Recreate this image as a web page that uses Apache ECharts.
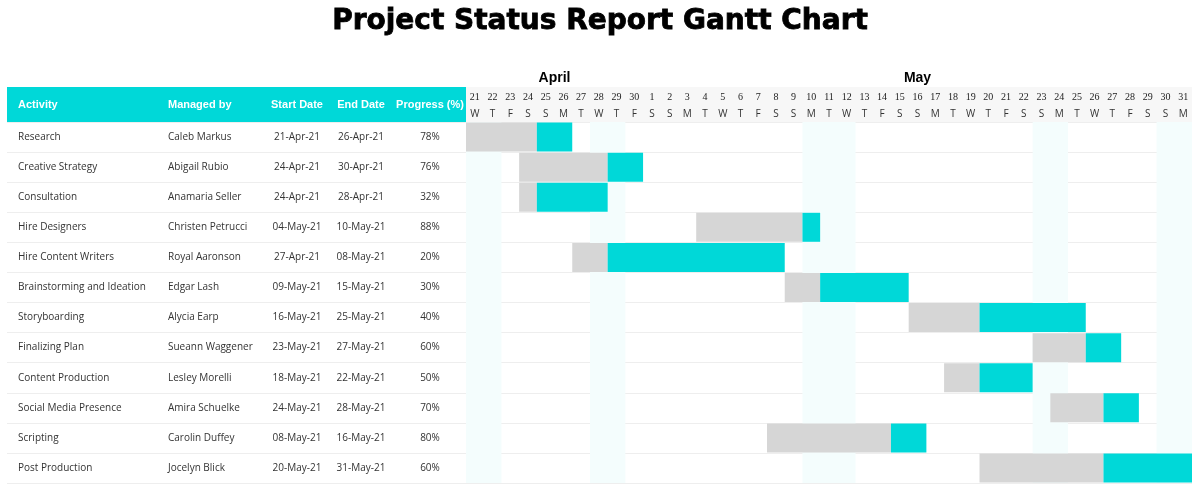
<!DOCTYPE html>
<html>
<head>
<meta charset="UTF-8">
<title>Project Status Report Gantt Chart</title>
<script src="https://cdn.jsdelivr.net/npm/echarts@6/dist/echarts.min.js"></script>
<style>
    html, body { margin: 0; padding: 0; background: #fff; }
    #main { width: 1200px; height: 491px; }
</style>
</head>
<body>
<div id="main"></div>
<script>
    var activities = ['Research', 'Creative Strategy', 'Consultation', 'Hire Designers', 'Hire Content Writers',
        'Brainstorming and Ideation', 'Storyboarding', 'Finalizing Plan', 'Content Production',
        'Social Media Presence', 'Scripting', 'Post Production'];
    var managers = ['Caleb Markus', 'Abigail Rubio', 'Anamaria Seller', 'Christen Petrucci', 'Royal Aaronson',
        'Edgar Lash', 'Alycia Earp', 'Sueann Waggener', 'Lesley Morelli', 'Amira Schuelke', 'Carolin Duffey', 'Jocelyn Blick'];
    var startDates = ['21-Apr-21', '24-Apr-21', '24-Apr-21', '04-May-21', '27-Apr-21', '09-May-21',
        '16-May-21', '23-May-21', '18-May-21', '24-May-21', '08-May-21', '20-May-21'];
    var endDates = ['26-Apr-21', '30-Apr-21', '28-Apr-21', '10-May-21', '08-May-21', '15-May-21',
        '25-May-21', '27-May-21', '22-May-21', '28-May-21', '16-May-21', '31-May-21'];
    var progress = ['78%', '76%', '32%', '88%', '20%', '30%', '40%', '60%', '50%', '70%', '80%', '60%'];

    // bars in day columns (0 = 21 Apr)
    var startDay = [0, 3, 3, 13, 6, 18, 25, 32, 27, 33, 17, 29];
    var grayDays = [4, 5, 1, 6, 2, 2, 4, 3, 2, 3, 7, 7];
    var cyanDays = [2, 2, 4, 1, 10, 5, 6, 2, 3, 2, 2, 5];

    var dayNums = ['21', '22', '23', '24', '25', '26', '27', '28', '29', '30',
        '1', '2', '3', '4', '5', '6', '7', '8', '9', '10', '11', '12', '13', '14', '15', '16',
        '17', '18', '19', '20', '21', '22', '23', '24', '25', '26', '27', '28', '29', '30', '31'];
    var dayLetters = ['W', 'T', 'F', 'S', 'S', 'M', 'T', 'W', 'T', 'F',
        'S', 'S', 'M', 'T', 'W', 'T', 'F', 'S', 'S', 'M', 'T', 'W', 'T', 'F', 'S', 'S',
        'M', 'T', 'W', 'T', 'F', 'S', 'S', 'M', 'T', 'W', 'T', 'F', 'S', 'S', 'M'];
    var months = ['April', 'May'];
    var monthSpans = [[0, 10], [10, 41]];
    var shadedDays = [[0, 2], [7, 9], [19, 22], [32, 34], [39, 41]];

    var CYAN = '#00d8d8';
    var GRAY = '#d6d6d6';
    var bodyFont = '"Open Sans", sans-serif';

    var myChart = echarts.init(document.getElementById('main'));

    var option = {
        backgroundColor: '#fff',
        animation: false,
        title: {
            text: 'Project Status Report Gantt Chart',
            left: 'center',
            top: 3,
            textStyle: {
                fontSize: 28, fontWeight: 'bold', color: '#000',
                fontFamily: '"DejaVu Sans", sans-serif',
                textBorderColor: '#000', textBorderWidth: 0.8
            }
        },
        grid: [
            { left: 7, width: 459, top: 122, bottom: 8 },
            { left: 466, right: 8, top: 122, bottom: 8 }
        ],
        xAxis: [
            { gridIndex: 0, type: 'value', min: 0, max: 1, show: false },
            { gridIndex: 1, type: 'value', min: 0, max: 41, show: false },
            {
                gridIndex: 1, type: 'category', position: 'top', data: dayNums, z: 10,
                axisLine: { show: false }, axisTick: { show: false },
                axisLabel: {
                    interval: 0, margin: 20, fontSize: 10, color: '#222',
                    fontFamily: '"Liberation Serif", serif',
                    formatter: function (v, i) { return dayNums[i]; }
                }
            },
            {
                gridIndex: 1, type: 'category', position: 'top', data: dayLetters, z: 10,
                axisLine: { show: false }, axisTick: { show: false },
                axisLabel: {
                    interval: 0, margin: 3, fontSize: 10, color: '#333', fontFamily: bodyFont,
                    formatter: function (v, i) { return dayLetters[i]; }
                }
            }
        ],
        yAxis: [
            {
                gridIndex: 0, type: 'category', inverse: true, data: activities,
                axisLine: { show: false }, axisTick: { show: false },
                splitLine: { show: true, lineStyle: { color: '#eeeeee' } },
                axisLabel: {
                    inside: true, margin: 11, interval: 0,
                    formatter: function (v, i) {
                        return '{a|' + activities[i] + '}{b|' + managers[i] + '}{c|' + startDates[i] +
                            '}{d|' + endDates[i] + '}{e|' + progress[i] + '}';
                    },
                    rich: {
                        a: { width: 150, fontSize: 10, color: '#333', fontFamily: bodyFont },
                        b: { width: 100, fontSize: 10, color: '#333', fontFamily: bodyFont },
                        c: { width: 58, align: 'center', fontSize: 10, color: '#333', fontFamily: bodyFont },
                        d: { width: 70, align: 'center', fontSize: 10, color: '#333', fontFamily: bodyFont },
                        e: { width: 68, align: 'center', fontSize: 10, color: '#333', fontFamily: bodyFont }
                    }
                }
            },
            {
                gridIndex: 1, type: 'category', inverse: true, data: activities,
                axisLine: { show: false }, axisTick: { show: false }, axisLabel: { show: false },
                splitLine: { show: true, lineStyle: { color: '#eeeeee' } }
            }
        ],
        series: [
            {
                type: 'bar', xAxisIndex: 1, yAxisIndex: 1, stack: 'gantt', silent: true, z: 1,
                barWidth: 29,
                itemStyle: { color: 'transparent' },
                data: startDay,
                markArea: {
                    silent: true,
                    itemStyle: { color: '#f4fdfd' },
                    data: shadedDays.map(function (s) { return [{ xAxis: s[0] }, { xAxis: s[1] }]; })
                }
            },
            {
                type: 'bar', name: 'Elapsed', xAxisIndex: 1, yAxisIndex: 1, stack: 'gantt', z: 3,
                barWidth: 29,
                itemStyle: { color: GRAY },
                data: grayDays
            },
            {
                type: 'bar', name: 'Remaining', xAxisIndex: 1, yAxisIndex: 1, stack: 'gantt', z: 3,
                barWidth: 29,
                itemStyle: { color: CYAN },
                data: cyanDays
            }
        ]
    };

    myChart.setOption(option);

    // header bands and month names placed from the axis scale
    var x0 = myChart.convertToPixel({ xAxisIndex: 1 }, 0);
    var x1 = myChart.convertToPixel({ xAxisIndex: 1 }, 41);
    var hdrFont = 'bold 11px "Liberation Sans", Arial, sans-serif';
    var graphics = [
        { type: 'rect', z: -10, shape: { x: 7, y: 87, width: 459, height: 35 }, style: { fill: CYAN } },
        { type: 'rect', z: -10, shape: { x: x0, y: 87, width: x1 - x0, height: 35 }, style: { fill: '#f7f7f7' } },
        { type: 'text', x: 18, y: 105, style: { text: 'Activity', font: hdrFont, fill: '#fff', textVerticalAlign: 'middle' } },
        { type: 'text', x: 168, y: 105, style: { text: 'Managed by', font: hdrFont, fill: '#fff', textVerticalAlign: 'middle' } },
        { type: 'text', x: 297, y: 105, style: { text: 'Start Date', font: hdrFont, fill: '#fff', textAlign: 'center', textVerticalAlign: 'middle' } },
        { type: 'text', x: 361, y: 105, style: { text: 'End Date', font: hdrFont, fill: '#fff', textAlign: 'center', textVerticalAlign: 'middle' } },
        { type: 'text', x: 430, y: 105, style: { text: 'Progress (%)', font: hdrFont, fill: '#fff', textAlign: 'center', textVerticalAlign: 'middle' } }
    ];
    months.forEach(function (m, i) {
        var mid = (monthSpans[i][0] + monthSpans[i][1]) / 2;
        graphics.push({
            type: 'text',
            x: myChart.convertToPixel({ xAxisIndex: 1 }, mid),
            y: 78,
            style: { text: m, font: 'bold 14px "Liberation Sans", Arial, sans-serif', fill: '#000', textAlign: 'center', textVerticalAlign: 'middle' }
        });
    });
    myChart.setOption({ graphic: graphics });
</script>
</body>
</html>
